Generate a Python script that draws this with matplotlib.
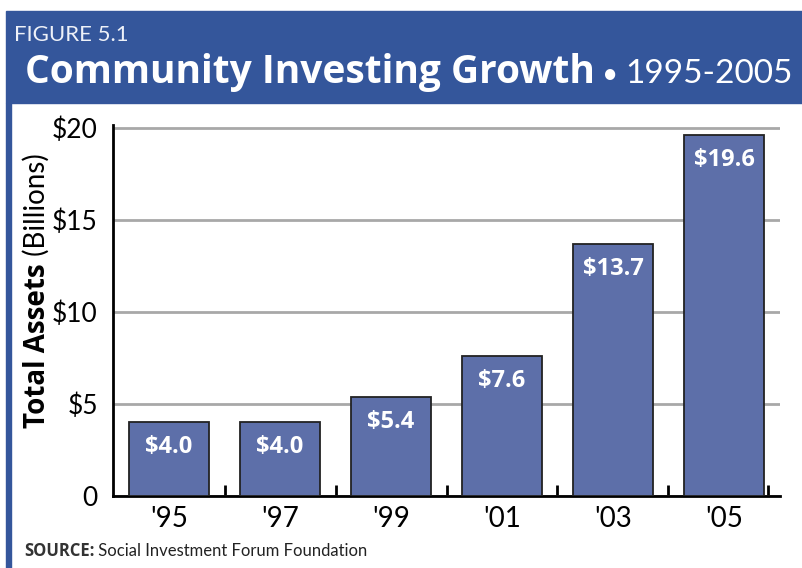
import matplotlib.pyplot as plt
from matplotlib.patches import Rectangle

# data
years = ["'95", "'97", "'99", "'01", "'03", "'05"]
assets = [4.0, 4.0, 5.4, 7.6, 13.7, 19.6]
value_labels = ['$4.0', '$4.0', '$5.4', '$7.6', '$13.7', '$19.6']
y_ticks = [0, 5, 10, 15, 20]
y_ticklabels = ['0', '$5', '$10', '$15', '$20']

plt.rcParams['font.family'] = ['Lato', 'DejaVu Sans']
WIDE = ['Open Sans', 'DejaVu Sans']

W, H = 802, 568
BLUE = '#34569b'
BAR = '#5d6fa9'

fig = plt.figure(figsize=(W / 100, H / 100), dpi=100)
renderer = fig.canvas.get_renderer()


def chain(parts, x, y, rotation=0, **kw):
    # put pieces of text one after another (pixel coords from top-left)
    for txt, props in parts:
        t = fig.text(x / W, 1 - y / H, txt, rotation=rotation,
                     rotation_mode='anchor', ha='left', va='baseline',
                     **kw, **props)
        bb = t.get_window_extent(renderer)
        if rotation == 90:
            y -= bb.height
        else:
            x += bb.width


# header band and left stripe
fig.add_artist(Rectangle((6 / W, 1 - 103 / H), (W - 6) / W, 92 / H,
                         transform=fig.transFigure, color=BLUE, zorder=0))
fig.add_artist(Rectangle((6 / W, 0), 5 / W, 1 - 103 / H,
                         transform=fig.transFigure, color=BLUE, zorder=0))

fig.text(14 / W, 1 - 41 / H, 'FIGURE 5.1', color='#eef1f8', fontsize=16,
         ha='left', va='baseline')
chain([('Community Investing Growth', dict(fontweight='bold', family=WIDE,
                                           fontsize=28)),
       (' \u2022 ', dict(fontweight='normal', fontsize=20)),
       ('1995-2005', dict(fontweight='normal', fontsize=24))],
      25, 83, color='white')

# chart
ax = fig.add_axes([113 / W, 1 - 496 / H, 667 / W, 371 / H])
x = range(len(years))
ax.bar(x, assets, width=0.72, color=BAR, edgecolor='#222222',
       linewidth=1.3, zorder=3)
for i, (v, lbl) in enumerate(zip(assets, value_labels)):
    ax.annotate(lbl, (i, v), xytext=(0, -18), textcoords='offset points',
                ha='center', va='center', color='white', family=WIDE,
                fontweight='bold', fontsize=17, zorder=4)

ax.set_xlim(-0.505, 5.505)
ax.set_ylim(0, 20.16)
ax.set_yticks(y_ticks)
ax.set_yticklabels(y_ticklabels, fontsize=19)
ax.yaxis.grid(True, color='#a8a8a8', linewidth=2, zorder=0)
ax.set_axisbelow(True)
ax.tick_params(axis='y', length=0, pad=11)

ax.set_xticks(list(x))
ax.set_xticklabels(years, fontsize=20)
ax.tick_params(axis='x', length=0, pad=7)
ax.set_xticks([0.5, 1.5, 2.5, 3.5, 4.5, 5.4], minor=True)
ax.tick_params(axis='x', which='minor', direction='in', length=8,
               width=2, color='black')

for s in ['top', 'right']:
    ax.spines[s].set_visible(False)
for s in ['left', 'bottom']:
    ax.spines[s].set_linewidth(2)
    ax.spines[s].set_color('black')

# y axis title
chain([('Total Assets', dict(fontweight='bold', family=WIDE)),
       (' (Billions)', dict(fontweight='normal'))],
      45, 428, rotation=90, color='black', fontsize=20)

# source
chain([('SOURCE:', dict(fontweight='bold', family=WIDE, color='#333333')),
       (' Social Investment Forum Foundation', dict(color='#222222'))],
      24, 556, fontsize=12)

fig.savefig('out.png', dpi=100)
